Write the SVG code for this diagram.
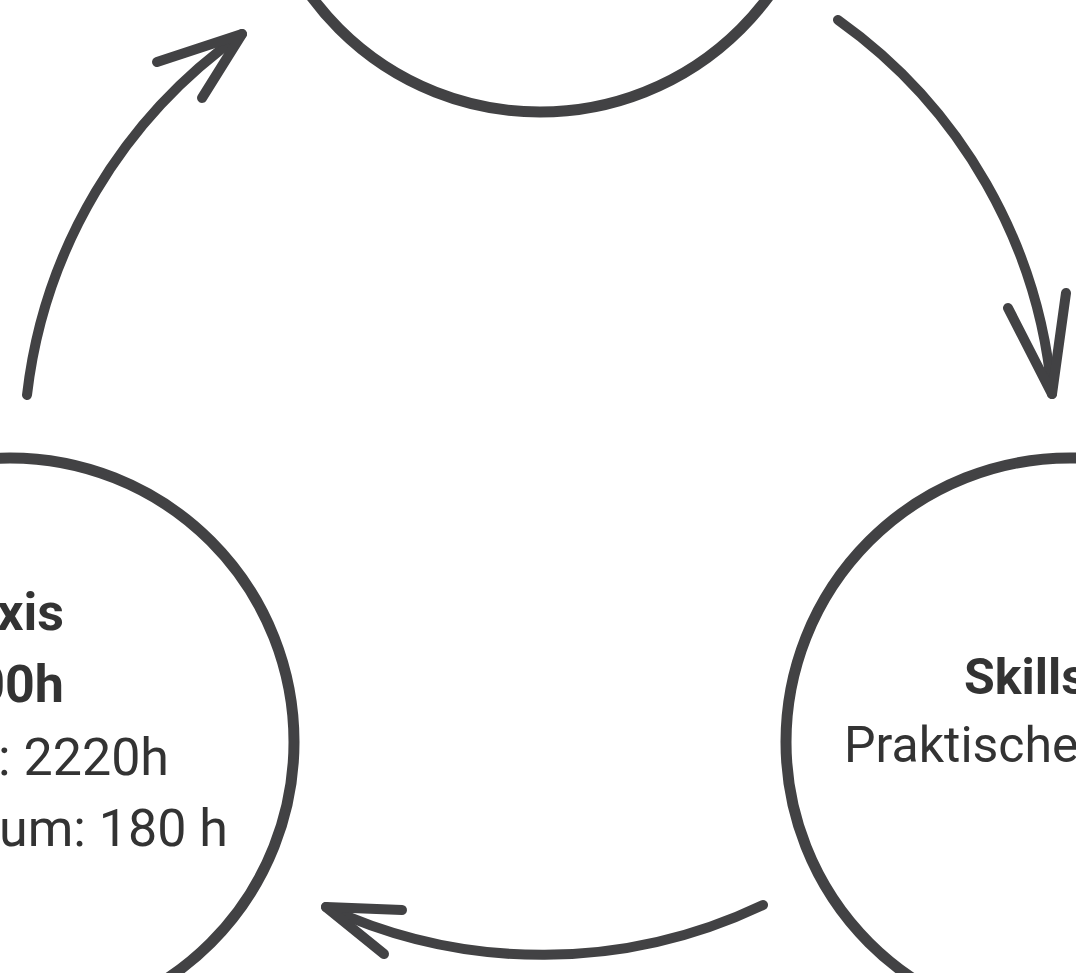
<svg xmlns="http://www.w3.org/2000/svg" width="1076" height="973" viewBox="0 0 1076 973">
<style>
.node{fill:none;stroke:#424244;stroke-width:11}
.conn{fill:none;stroke:#424244;stroke-width:10;stroke-linecap:round;stroke-linejoin:round}
.t{font-family:Roboto,"Liberation Sans",sans-serif;fill:#333333}
.l{font-size:52px}
.r{font-size:50px}
.b{font-weight:bold}
</style>
<rect width="1076" height="973" fill="#ffffff"/>
<g id="node-top">
<circle class="node" cx="540" cy="-172" r="284"/>
</g>
<g id="node-praxis">
<circle class="node" cx="10" cy="742" r="284"/>
<text class="t l b" x="64" y="630" text-anchor="end">xis</text>
<text class="t l b" x="64" y="702" text-anchor="end">00h</text>
<text class="t l" x="169" y="775" text-anchor="end">: 2220h</text>
<text class="t l" x="228" y="846" text-anchor="end">um: 180 h</text>
</g>
<g id="node-skills">
<circle class="node" cx="1070" cy="742" r="284"/>
<text class="t r b" x="964" y="694">Skills</text>
<text class="t r" x="844" y="762">Praktische</text>
</g>
<g id="connectors">
<path class="conn" d="M27,395 A513,513 0 0 1 242,34"/>
<polyline class="conn" points="157,62 242,34 202,98"/>
<path class="conn" d="M838,20 A513,513 0 0 1 1052,394"/>
<polyline class="conn" points="1008,308 1052,394 1066,293"/>
<path class="conn" d="M763,905 A513,513 0 0 1 326,907"/>
<polyline class="conn" points="402,910 326,907 384,954"/>
</g>
</svg>
